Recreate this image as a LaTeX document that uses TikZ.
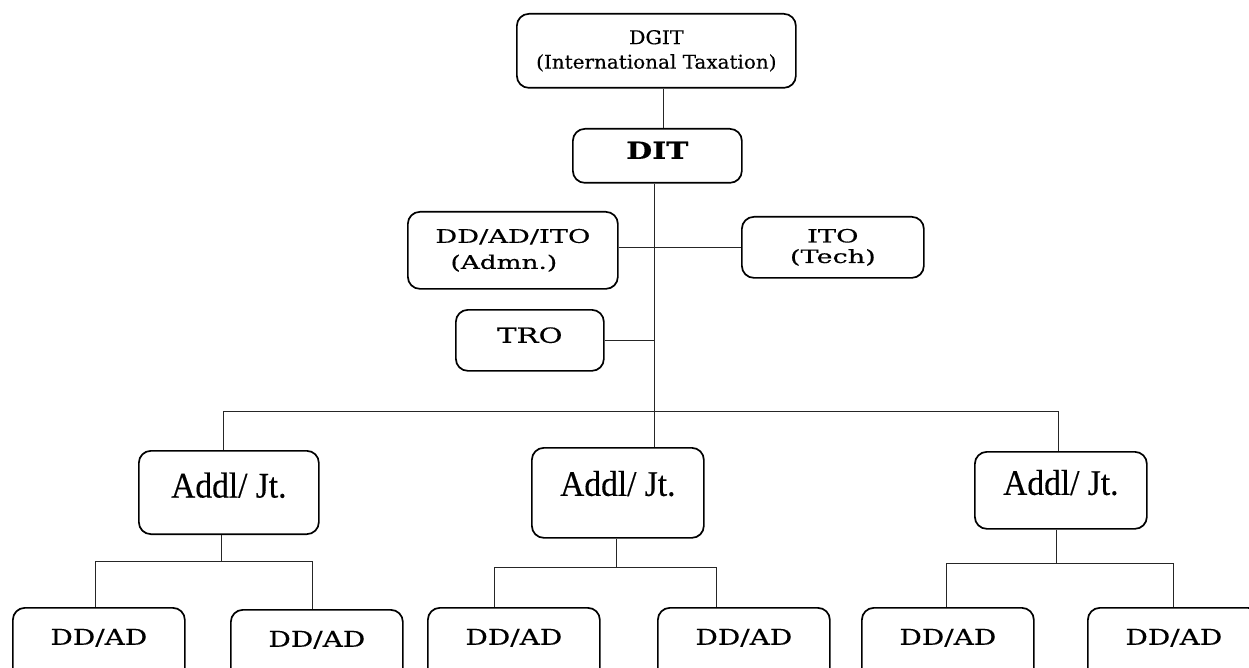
\documentclass[tikz,border=0pt]{standalone}
\usepackage{fontspec}
\usepackage{graphicx}
\setmainfont{Liberation Serif}[FakeBold=0.4]
\newfontfamily\boxserif{DejaVu Serif}[FakeBold=0.4]
% horizontal stretch of a label
\newcommand\hstretch[2]{\scalebox{#1}[1]{#2}}

\begin{document}
\begin{tikzpicture}[x=1pt,y=-1pt,
  box/.style={draw, line width=1.7pt, rounded corners=12pt, inner sep=0pt,
              anchor=north west, align=center},
  link/.style={line width=1pt, black!85},
  addl/.style={box, minimum width=#1, font=\fontsize{36}{40}\selectfont},
  ddad/.style={box, minimum width=172pt, text height=37pt, text depth=40pt,
               font=\boxserif\fontsize{22}{26}\selectfont},
]
\useasboundingbox (0,0) rectangle (1249,668);
\clip (0,0) rectangle (1249,668);

% top of the hierarchy
\node[box, minimum width=279pt, minimum height=74pt,
      font=\boxserif\fontsize{19}{24.5}\selectfont] (dgit) at (516,13)
  {\hstretch{1.08}{DGIT}\\\hstretch{1.05}{(International Taxation)}};
\node[box, minimum width=169pt, text height=30pt, text depth=24pt,
      font=\boxserif\bfseries\fontsize{23.5}{26}\selectfont] (dit) at (572,128)
  {\hstretch{1.27}{DIT}};

% staff attached to the DIT
\node[box, minimum width=210pt, minimum height=77pt,
      font=\boxserif\fontsize{18.8}{26}\selectfont] (admn) at (407,211)
  {\hstretch{1.45}{DD/AD/ITO}\\\hstretch{1.4}{(Admn.)}\hspace*{18pt}};
\node[box, minimum width=182pt, minimum height=61pt,
      font=\boxserif\fontsize{18.3}{20.5}\selectfont] (tech) at (741,216)
  {\hstretch{1.49}{ITO}\\\hstretch{1.48}{(Tech)}};
\node[box, minimum width=148pt, text height=33pt, text depth=28pt,
      font=\boxserif\fontsize{21}{24}\selectfont] (tro) at (455,309)
  {\hstretch{1.39}{TRO}};

% Addl/Jt. level
\node[addl=180pt, text height=46.7pt, text depth=36.6pt] (addlL) at (138,450) {\hstretch{0.93}{Addl/ Jt.}};
\node[addl=172pt, text height=48pt, text depth=42pt] (addlM) at (531,447) {\hstretch{0.93}{Addl/ Jt.}};
\node[addl=172pt, text height=43pt, text depth=34pt] (addlR) at (974,451) {\hstretch{0.93}{Addl/ Jt.}};

% DD/AD level
\node[ddad] (d1) at (12,607) {\hstretch{1.27}{DD/AD}};
\node[ddad] (d2) at (230,609) {\hstretch{1.27}{DD/AD}};
\node[ddad] (d3) at (427,607) {\hstretch{1.27}{DD/AD}};
\node[ddad] (d4) at (657,607) {\hstretch{1.27}{DD/AD}};
\node[ddad] (d5) at (861,607) {\hstretch{1.27}{DD/AD}};
\node[ddad] (d6) at (1087,607) {\hstretch{1.27}{DD/AD}};

% junction points of the connectors
\coordinate (j0) at (663,0);
\coordinate (trunk) at (654.5,411.5);
\coordinate (bL) at (223,411.5);
\coordinate (bR) at (1058,411.5);
\coordinate (sL) at (221,561.5);
\coordinate (a1) at (95,561.5);
\coordinate (a2) at (312,561.5);
\coordinate (sM) at (616,567);
\coordinate (b1) at (494,567);
\coordinate (b2) at (716,567);
\coordinate (sR) at (1056,563.3);
\coordinate (c1) at (946,563.3);
\coordinate (c2) at (1173,563.3);

% connectors
\draw[link] (dgit.south -| j0) -- (dit.north -| j0);
\draw[link] (dit.south -| trunk) -- (trunk);
\draw[link] (tech.west -| admn.east) -- (tech.west);
\draw[link] (tro.east) -- (tro.east -| trunk);
\draw[link] (addlL.north -| bL) -- (bL) -- (bR) -- (addlR.north -| bR);
\draw[link] (trunk) -- (addlM.north -| trunk);

\draw[link] (addlL.south -| sL) -- (sL);
\draw[link] (d1.north -| a1) -- (a1) -- (a2) -- (d2.north -| a2);
\draw[link] (addlM.south -| sM) -- (sM);
\draw[link] (d3.north -| b1) -- (b1) -- (b2) -- (d4.north -| b2);
\draw[link] (addlR.south -| sR) -- (sR);
\draw[link] (d5.north -| c1) -- (c1) -- (c2) -- (d6.north -| c2);
\end{tikzpicture}
\end{document}
